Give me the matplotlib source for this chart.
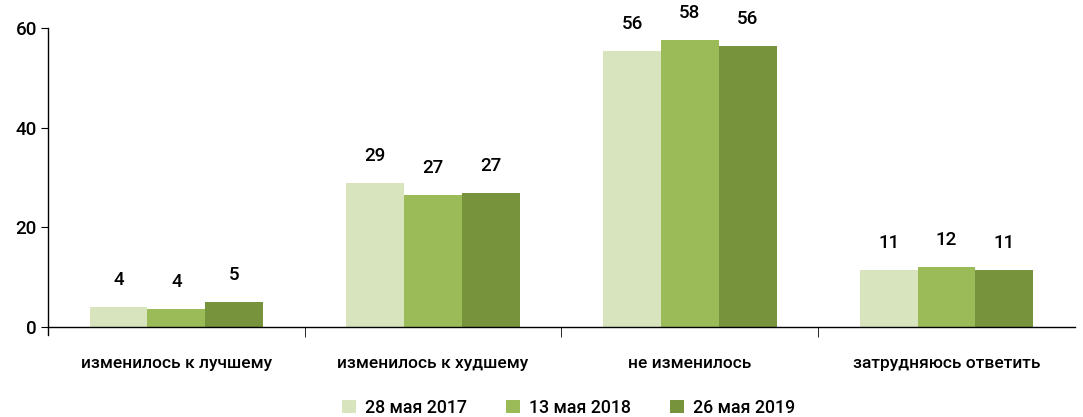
import matplotlib.pyplot as plt
import numpy as np

plt.rcParams['font.family'] = ['Roboto', 'DejaVu Sans']

categories = ["изменилось к лучшему", "изменилось к худшему", "не изменилось", "затрудняюсь ответить"]
series = ["28 мая 2017", "13 мая 2018", "26 мая 2019"]
values = [
    [4.0, 28.9, 55.4, 11.4],
    [3.6, 26.5, 57.6, 12.0],
    [5.0, 26.9, 56.4, 11.4],
]
labels = [
    ["4", "29", "56", "11"],
    ["4", "27", "58", "12"],
    ["5", "27", "56", "11"],
]
colors = ["#D7E4BD", "#9BBB59", "#77933C"]

fig = plt.figure(figsize=(10.83, 4.17), dpi=100)
ax = fig.add_axes([0.0443, 0.1966, 0.9483, 0.7362])

x = np.arange(len(categories))
w = 0.225
for i in range(3):
    pos = x + (i - 1) * w
    ax.bar(pos, values[i], width=w, color=colors[i], label=series[i])
    for px, v, t in zip(pos, values[i], labels[i]):
        ax.annotate(t, (px, v), xytext=(0, 19.5), textcoords="offset points",
                    ha="center", va="center", fontsize=13.5, fontweight="medium",
                    annotation_clip=False)

ax.set_xlim(-0.5, 3.5)
ax.set_ylim(-1.6, 60)
ax.set_yticks([0, 20, 40, 60])
ax.tick_params(axis="y", labelsize=13.5, length=5, direction="out", pad=3)
for lb in ax.get_yticklabels():
    lb.set_fontweight("medium")
ax.spines["top"].set_visible(False)
ax.spines["right"].set_visible(False)
ax.spines["bottom"].set_position(("data", 0))
ax.spines["left"].set_linewidth(1)
ax.spines["bottom"].set_linewidth(1)

ax.set_xticks(x)
ax.set_xticklabels(categories, fontsize=12.5, fontweight="medium")
ax.set_xticks(np.arange(-0.5, 4, 1)[1:-1], minor=True)
ax.tick_params(axis="x", which="major", length=0, pad=21)
ax.tick_params(axis="x", which="minor", length=7, direction="out")

fig.legend(loc="center", ncol=3, frameon=False, prop={"size": 12.8, "weight": "medium"},
           handlelength=0.8, handleheight=0.8, columnspacing=2.2,
           handletextpad=0.5, bbox_to_anchor=(0.525, 0.022))

fig.savefig("out.png", dpi=100)
